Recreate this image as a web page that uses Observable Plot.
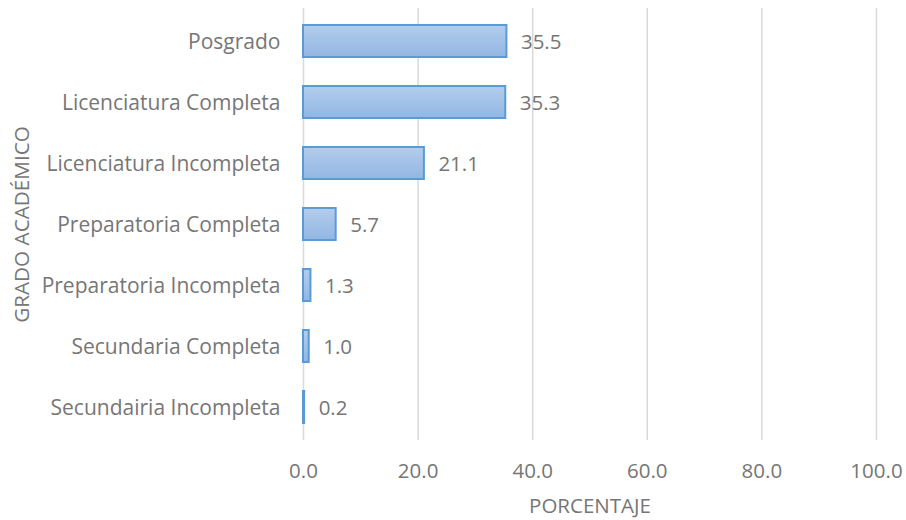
<!DOCTYPE html>
<html><head><meta charset="utf-8">
<script src="https://cdn.jsdelivr.net/npm/d3@7"></script>
<script src="https://cdn.jsdelivr.net/npm/@observablehq/plot@0.6"></script>
<style>body{margin:0;background:#fff;}</style>
</head><body><div id="chart"></div>
<script>
const categories = ["Posgrado","Licenciatura Completa","Licenciatura Incompleta","Preparatoria Completa","Preparatoria Incompleta","Secundaria Completa","Secundairia Incompleta"];
const values = [35.5, 35.3, 21.1, 5.7, 1.3, 1.0, 0.2];
const xTicks = [0, 20, 40, 60, 80, 100];
const data = categories.map((c, i) => ({cat: c, val: values[i]}));
const fmt = d3.format(".1f");
const FONT = "'Open Sans', sans-serif";
const TXT = "#767676";

const defs = () => {
  const d = d3.create("svg:defs");
  const g = d.append("linearGradient").attr("id", "barGrad").attr("x1", 0).attr("y1", 0).attr("x2", 0).attr("y2", 1);
  g.append("stop").attr("offset", "0%").attr("stop-color", "#b3cdec");
  g.append("stop").attr("offset", "100%").attr("stop-color", "#92b6e3");
  return d.node();
};

const chart = Plot.plot({
  width: 906, height: 520,
  marginLeft: 303, marginRight: 30, marginTop: 8, marginBottom: 80,
  style: {fontSize: "20px", color: TXT, fontFamily: FONT},
  x: {domain: [0, 100], ticks: xTicks, tickFormat: fmt, label: null, tickSize: 0},
  y: {domain: categories, label: null, tickSize: 0, paddingInner: 0.48, paddingOuter: 0.24},
  marks: [
    defs,
    Plot.gridX(xTicks, {stroke: "#d9d9d9", strokeOpacity: 1, strokeWidth: 1.5}),
    Plot.barX(data, {y: "cat", x: "val", fill: "url(#barGrad)", stroke: "#5b9bd5", strokeWidth: 2}),
    Plot.text(data, {y: "cat", x: "val", text: d => fmt(d.val), dx: 14, dy: 1, textAnchor: "start", fill: TXT, fontSize: 20.5}),
    Plot.axisX({ticks: xTicks, tickFormat: fmt, tickSize: 0, tickPadding: 23, label: null, fontSize: 20.5, fill: TXT}),
    Plot.axisY({tickSize: 0, tickPadding: 23, label: null, fontSize: 21, dy: 1, fill: TXT}),
    Plot.text(["PORCENTAJE"], {frameAnchor: "bottom", dy: 72, fill: TXT, fontSize: 20.5}),
    Plot.text(["GRADO ACADÉMICO"], {frameAnchor: "left", textAnchor: "middle", dx: -281, rotate: -90, fill: TXT, fontSize: 20.7})
  ]
});
document.getElementById("chart").appendChild(chart);
</script></body></html>
